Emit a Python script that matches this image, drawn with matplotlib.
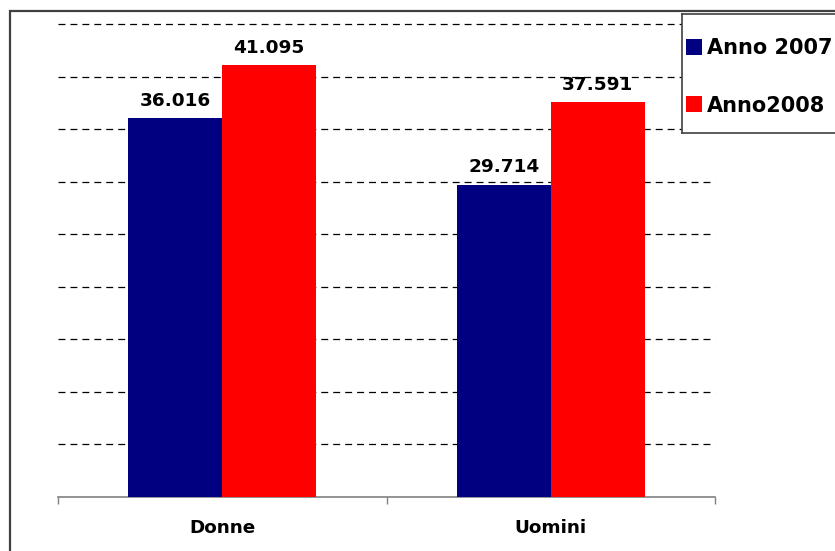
import matplotlib
matplotlib.use("Agg")
import matplotlib.pyplot as plt
from matplotlib.patches import Rectangle
import numpy as np

categories = ["Donne", "Uomini"]
series_names = ["Anno 2007", "Anno2008"]
values_2007 = [36016, 29714]
values_2008 = [41095, 37591]
value_labels_2007 = ["36.016", "29.714"]
value_labels_2008 = ["41.095", "37.591"]
colors = ["#000080", "#FF0000"]

plt.rcParams['font.family'] = ['DejaVu Sans']
plt.rcParams['lines.scale_dashes'] = False

W, H = 835, 551
fig = plt.figure(figsize=(W / 100, H / 100), dpi=100)
ax = fig.add_axes([58 / W, 1 - 497 / H, (715 - 58) / W, (497 - 24) / H])
ax.set_zorder(1)

x = np.arange(len(categories))
bw = 0.286
b1 = ax.bar(x - bw / 2, values_2007, bw, color=colors[0], label=series_names[0], zorder=3)
b2 = ax.bar(x + bw / 2, values_2008, bw, color=colors[1], label=series_names[1], zorder=3)

for bars, labs in ((b1, value_labels_2007), (b2, value_labels_2008)):
    for rect, lab in zip(bars, labs):
        ax.annotate(lab, (rect.get_x() + rect.get_width() / 2, rect.get_height()),
                    xytext=(0, 6.0), textcoords="offset points", ha="center", va="bottom",
                    fontsize=13.3, fontweight="bold", zorder=4)

ax.set_xlim(-0.5, 1.5)
ax.set_ylim(0, 45000)
for yv in range(5000, 45001, 5000):
    ax.axhline(yv, color="black", lw=0.9, linestyle=(0, (5.0, 3.6)), zorder=1, clip_on=False)

for s in ["left", "right", "top"]:
    ax.spines[s].set_visible(False)
ax.spines["bottom"].set_color("#808080")
ax.spines["bottom"].set_linewidth(1.2)
ax.set_yticks([])
ax.set_xticks([-0.5, 0.5, 1.5])
ax.set_xticklabels([])
ax.tick_params(axis="x", which="major", length=5, width=1.0, color="#808080", direction="out")
ax.set_xticks(x, minor=True)
ax.set_xticklabels(categories, minor=True, fontsize=13.2, fontweight="bold")
ax.tick_params(axis="x", which="minor", length=0, pad=16)

# outer chart frame
fig.add_artist(Rectangle((10 / W, -0.1), 1.2, (H - 11) / H + 0.1, transform=fig.transFigure,
                         fill=False, edgecolor="#404040", lw=1.6, zorder=5))

# legend box as its own axes, drawn above the plot (covers the gridlines)
lax = fig.add_axes([682 / W, 1 - 133 / H, 0.5, (133 - 14) / H])
lax.set_zorder(10)
lax.set_facecolor("white")
lax.set_xticks([])
lax.set_yticks([])
lax.spines["right"].set_visible(False)
for s in ["left", "top", "bottom"]:
    lax.spines[s].set_color("#404040")
    lax.spines[s].set_linewidth(1.2)

leg = lax.legend(handles=[b1, b2], labels=series_names, loc="upper left",
                 bbox_to_anchor=(686 / W, 1 - 38 / H), bbox_transform=fig.transFigure,
                 frameon=False,
                 prop={"weight": "bold", "size": 15}, handlelength=0.78, handleheight=0.78,
                 handletextpad=0.22, labelspacing=1.8, borderpad=0, borderaxespad=0)

fig.savefig("out.png", dpi=100)
